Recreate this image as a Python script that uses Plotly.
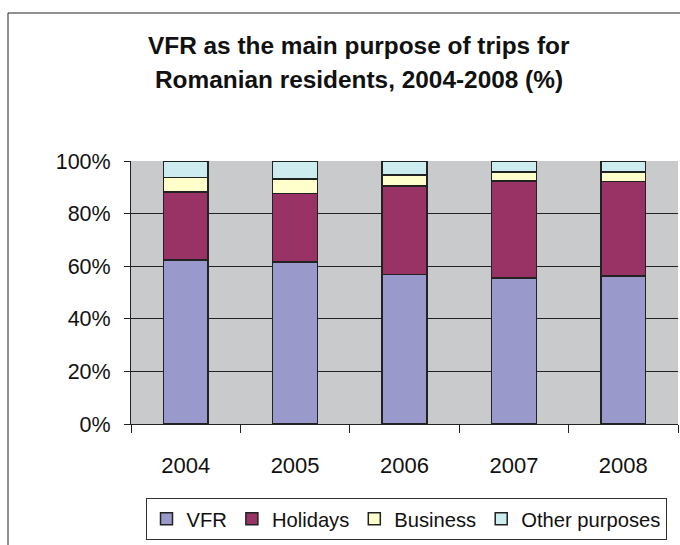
import plotly.graph_objects as go

years = ["2004", "2005", "2006", "2007", "2008"]
vfr = [62.4, 61.6, 56.9, 55.6, 56.3]
holidays = [25.8, 26.0, 33.6, 36.8, 36.0]
business = [5.5, 5.6, 4.1, 3.4, 3.5]
other = [6.3, 6.8, 5.4, 4.2, 4.2]
title_lines = ["VFR as the main purpose of trips for", "Romanian residents, 2004-2008 (%)"]

series = [
    ("VFR", vfr, "#9999CC"),
    ("Holidays", holidays, "#993366"),
    ("Business", business, "#FFFFCC"),
    ("Other purposes", other, "#CCECF0"),
]

FONT = "Liberation Sans, Arial, sans-serif"

fig = go.Figure()
for name, vals, col in series:
    fig.add_trace(go.Bar(
        x=years, y=vals, name=name,
        marker=dict(color=col, line=dict(color="#222222", width=1.5)),
        width=0.41,
    ))

W, H = 680, 545
L, R, T, B = 131, 2, 161, 121
PW, PH = W - L - R, H - T - B


def px_y(y):
    return (T + PH - y) / PH


def px_x(x):
    return (x - L) / PW


fig.update_layout(
    width=W, height=H,
    barmode="stack",
    paper_bgcolor="white",
    plot_bgcolor="#C9CACC",
    margin=dict(l=L, r=R, t=T, b=B, pad=0, autoexpand=False),
    font=dict(family=FONT, size=22, color="#111111"),
    showlegend=True,
    legend=dict(
        orientation="h",
        x=px_x(406), xanchor="center",
        y=px_y(498), yanchor="top",
        bordercolor="#333333", borderwidth=1,
        bgcolor="white",
        font=dict(family=FONT, size=20.2, color="#111111"),
        traceorder="normal",
        itemwidth=30,
    ),
)

for line, yy in zip(title_lines, [45, 80]):
    fig.add_annotation(
        text="<b>" + line + "</b>",
        xref="paper", yref="paper",
        x=px_x(359), xanchor="center",
        y=px_y(yy), yanchor="middle",
        showarrow=False,
        font=dict(family=FONT, size=24.4, color="#111111"),
    )

fig.update_xaxes(
    type="category",
    showline=True, linecolor="#222222", linewidth=1,
    ticks="outside", tickson="boundaries", ticklen=8, tickcolor="#222222",
    showgrid=False,
    tickfont=dict(size=22),
    ticklabelstandoff=22,
)
fig.update_yaxes(
    range=[0, 100],
    tickvals=[0, 20, 40, 60, 80, 100],
    ticktext=["0%", "20%", "40%", "60%", "80%", "100%"],
    showline=True, linecolor="#222222", linewidth=1,
    ticks="outside", ticklen=6, tickcolor="#222222",
    showgrid=True, gridcolor="#222222", gridwidth=1,
    tickfont=dict(size=21.5),
    ticklabelstandoff=9,
    zeroline=False,
)

# outer chart border
fig.add_shape(type="rect", xref="paper", yref="paper",
              x0=px_x(8), x1=px_x(W + 20),
              y0=px_y(H + 20), y1=px_y(13),
              line=dict(color="#222222", width=1), layer="below")

fig.write_html("out.html",
               config={"displayModeBar": False},
               post_script="document.body.style.margin='0';document.body.style.overflow='hidden';")
